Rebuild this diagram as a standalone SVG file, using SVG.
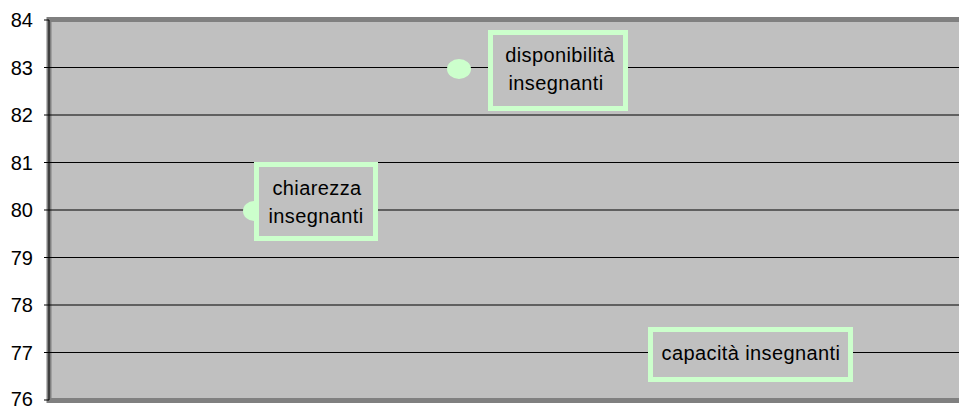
<svg xmlns="http://www.w3.org/2000/svg" width="959" height="409" viewBox="0 0 959 409">
<style>
.ax{font-family:"Liberation Sans",Arial,sans-serif;font-size:20px;fill:#000;text-anchor:end}
.lb{font-family:"Liberation Sans",Arial,sans-serif;font-size:20px;letter-spacing:0.4px;fill:#000;text-anchor:middle}
.grid{stroke:#000;stroke-width:1}
.box{fill:#C0C0C0;stroke:#CCFFCC;stroke-width:5}
.pt{fill:#CCFFCC}
</style>
<rect width="959" height="409" fill="#fff"/>
<g id="plot">
<rect x="49" y="19.5" width="915" height="381" fill="#C0C0C0" stroke="#808080" stroke-width="5"/>
</g>
<g id="connectors">
<line class="grid" x1="49" y1="67.5" x2="959" y2="67.5"/>
<line class="grid" x1="49" y1="115" x2="959" y2="115"/>
<line class="grid" x1="49" y1="162.5" x2="959" y2="162.5"/>
<line class="grid" x1="49" y1="210" x2="959" y2="210"/>
<line class="grid" x1="49" y1="257.5" x2="959" y2="257.5"/>
<line class="grid" x1="49" y1="305" x2="959" y2="305"/>
<line class="grid" x1="49" y1="352.5" x2="959" y2="352.5"/>
<line class="grid" x1="49" y1="20" x2="49" y2="400"/>
<g class="grid">
<line x1="44" y1="20" x2="49" y2="20"/>
<line x1="44" y1="67.5" x2="49" y2="67.5"/>
<line x1="44" y1="115" x2="49" y2="115"/>
<line x1="44" y1="162.5" x2="49" y2="162.5"/>
<line x1="44" y1="210" x2="49" y2="210"/>
<line x1="44" y1="257.5" x2="49" y2="257.5"/>
<line x1="44" y1="305" x2="49" y2="305"/>
<line x1="44" y1="352.5" x2="49" y2="352.5"/>
<line x1="44" y1="400" x2="49" y2="400"/>
</g>
</g>
<g id="axis-labels">
<text class="ax" x="33" y="27">84</text>
<text class="ax" x="33" y="74.5">83</text>
<text class="ax" x="33" y="122">82</text>
<text class="ax" x="33" y="169.5">81</text>
<text class="ax" x="33" y="217">80</text>
<text class="ax" x="33" y="264.5">79</text>
<text class="ax" x="33" y="312">78</text>
<text class="ax" x="33" y="359.5">77</text>
<text class="ax" x="33" y="406">76</text>
</g>
<g id="point-disponibilita">
<ellipse class="pt" cx="459" cy="69" rx="12" ry="10"/>
</g>
<g id="point-chiarezza">
<ellipse class="pt" cx="254" cy="211" rx="11" ry="10"/>
</g>
<g id="label-chiarezza">
<rect class="box" x="256.5" y="164.5" width="119" height="74"/>
<text class="lb" x="317" y="195">chiarezza</text>
<text class="lb" x="316" y="223">insegnanti</text>
</g>
<g id="label-disponibilita">
<rect class="box" x="490.5" y="32.5" width="135" height="76"/>
<text class="lb" x="560" y="62">disponibilità</text>
<text class="lb" x="556" y="90">insegnanti</text>
</g>
<g id="label-capacita">
<rect class="box" x="650.5" y="329.5" width="200" height="50"/>
<text class="lb" x="751" y="360">capacità insegnanti</text>
</g>
</svg>
